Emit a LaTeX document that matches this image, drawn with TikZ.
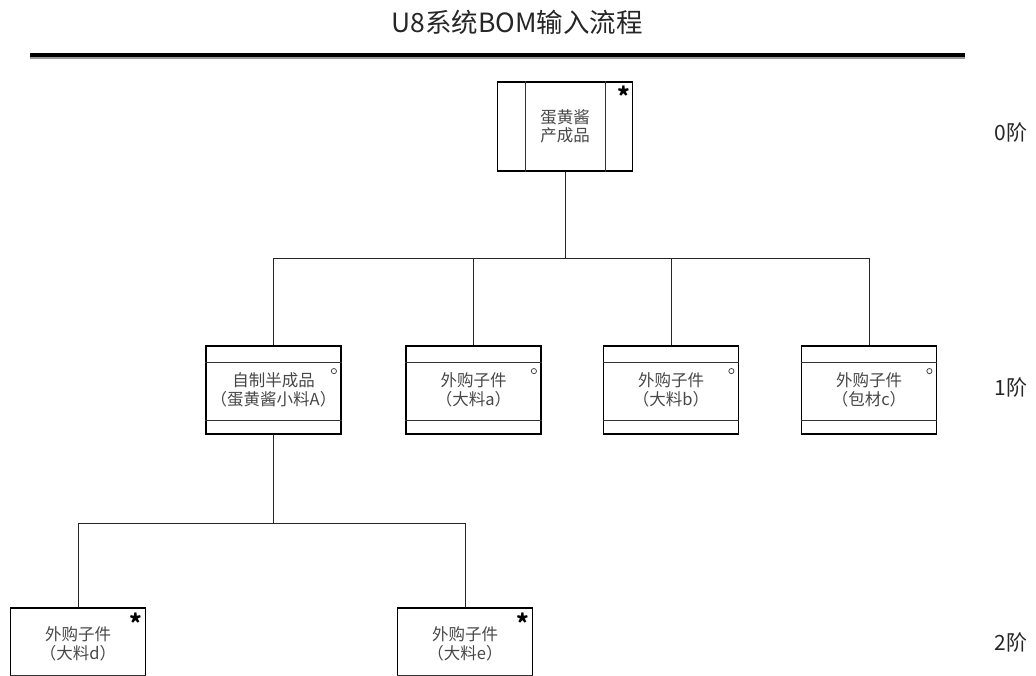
\documentclass[tikz,border=0pt]{standalone}
\usepackage{fontspec}
\setmainfont{Noto Sans CJK SC}
\usetikzlibrary{positioning, calc}

\begin{document}
\begin{tikzpicture}[x=1pt, y=1pt, node distance=198pt]
    % stili
    \tikzstyle{part} = [draw, rectangle, line width=1.8pt, minimum width=135pt, minimum height=88pt, inner sep=0pt, align=center, font=\fontsize{16.5}{19.5}\selectfont, text=black!72]
    \tikzstyle{flag} = [inner sep=0pt, font=\fontsize{24}{24}\selectfont\bfseries]
    \tikzstyle{level} = [font=\fontsize{21}{24}\selectfont, text=black!85]
    \tikzstyle{link} = [line width=0.8pt, black!85]
    \tikzstyle{rule} = [line width=0.7pt, black!80]

    \useasboundingbox (0,0) rectangle (1036,675);

    % titolo
    \node [font=\fontsize{26.5}{30}\selectfont, text=black!85] (title) at (517,653) {U8系统BOM输入流程};
    \draw [line width=2pt, black!40] (30,617) -- (965,617);
    \draw [line width=4pt] (30,620) -- (965,620);

    % 0阶
    \node [part, minimum height=89pt, font=\fontsize{16.5}{18.5}\selectfont] (top) at (565,548.5) {蛋黄酱\\产成品};
    \draw [rule] ([xshift=29pt]top.north west) -- ([xshift=29pt]top.south west);
    \draw [rule] ([xshift=-28pt]top.north east) -- ([xshift=-28pt]top.south east);
    \node [flag] at ([xshift=-10pt, yshift=-15pt]top.north east) {*};

    % 1阶
    \node [part] (mA) at (273.5,285) {自制半成品\\（蛋黄酱小料A）};
    \node [part, right of=mA, node distance=200pt] (ma) {外购子件\\（大料a）};
    \node [part, right of=ma, node distance=197.5pt] (mb) {外购子件\\（大料b）};
    \node [part, right of=mb] (mc) {外购子件\\（包材c）};
    \foreach \m in {mA,ma,mb,mc} {
        \draw [rule] ([yshift=-17pt]\m.north west) -- ([yshift=-17pt]\m.north east);
        \draw [rule] ([yshift=15pt]\m.south west) -- ([yshift=15pt]\m.south east);
        \draw [rule] ([xshift=-8pt, yshift=-26pt]\m.north east) circle (2.6pt);
    }

    % 2阶
    \node [part, minimum height=72pt] (md) at (78,31) {外购子件\\（大料d）};
    \node [part, minimum height=72pt, right of=md, node distance=387pt] (me) {外购子件\\（大料e）};
    \foreach \m in {md,me} {
        \draw [rule] ([yshift=6pt]\m.south west) -- ([yshift=6pt]\m.south east);
        \node [flag] at ([xshift=-11pt, yshift=-16pt]\m.north east) {*};
    }

    % collegamenti
    \coordinate (bus0) at ($(top.south)+(0,-87)$);
    \foreach \m in {mA,ma,mb,mc}
        \draw [link] (top.south) -- (bus0) -| (\m.north);
    \coordinate (bus1) at ($(mA.south)+(0,-89)$);
    \foreach \m in {md,me}
        \draw [link] (mA.south) -- (bus1) -| (\m.north);

    % livelli
    \node [level] (l0) at (1011,542) {0阶};
    \node [level] (l1) at (1011,287) {1阶};
    \node [level] (l2) at (1011,32) {2阶};

\end{tikzpicture}
\end{document}
